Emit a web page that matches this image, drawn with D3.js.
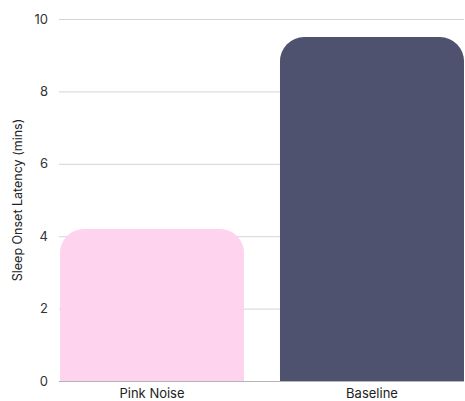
<!DOCTYPE html>
<html>
<head>
<meta charset="utf-8">
<script src="https://cdn.jsdelivr.net/npm/d3@7"></script>
<style>
  html, body { margin: 0; padding: 0; background: #fff; }
  svg { display: block; font-family: Inter, "Open Sans", sans-serif; }
</style>
</head>
<body>
<svg id="chart" width="465" height="401"></svg>
<script>
// Sleep onset latency by condition
const categories = ["Pink Noise", "Baseline"];
const values = [4.2, 9.5];
const colors = ["#FDD3EE", "#4E526F"];
const yTicks = [0, 2, 4, 6, 8, 10];
const yLabel = "Sleep Onset Latency (mins)";

const width = 465, height = 401;
const margin = { top: 19, right: 1, bottom: 20, left: 60 };

const svg = d3.select("#chart");

const x = d3.scaleBand()
  .domain(categories)
  .range([margin.left, width - margin.right])
  .paddingInner(0.1636)
  .paddingOuter(0);

const y = d3.scaleLinear()
  .domain([0, 10])
  .range([height - margin.bottom, margin.top]);

// gridlines
svg.append("g")
  .selectAll("line")
  .data(yTicks)
  .join("line")
  .attr("x1", margin.left - 1)
  .attr("x2", width - margin.right)
  .attr("y1", d => y(d) + 0.5)
  .attr("y2", d => y(d) + 0.5)
  .attr("stroke", d => d === 0 ? "#b5b5b5" : "#d4d4d4")
  .attr("stroke-width", 1);

// y tick labels
const yAxis = d3.axisLeft(y).tickValues(yTicks).tickSize(0).tickPadding(12);
svg.append("g")
  .attr("transform", `translate(${margin.left},0)`)
  .call(yAxis)
  .call(g => g.select(".domain").remove())
  .call(g => g.selectAll("text")
    .attr("font-size", 13)
    .attr("font-family", "Inter, sans-serif")
    .attr("fill", "#333"));

// bars with rounded top corners
const r = 24;
function topRounded(x0, y0, w, h, rad) {
  const rr = Math.min(rad, w / 2, h);
  return `M${x0},${y0 + h}` +
    `V${y0 + rr}` +
    `A${rr},${rr} 0 0 1 ${x0 + rr},${y0}` +
    `H${x0 + w - rr}` +
    `A${rr},${rr} 0 0 1 ${x0 + w},${y0 + rr}` +
    `V${y0 + h}Z`;
}

svg.append("g")
  .selectAll("path")
  .data(categories.map((c, i) => ({ c, v: values[i], col: colors[i] })))
  .join("path")
  .attr("d", d => topRounded(x(d.c), y(d.v), x.bandwidth(), y(0) - y(d.v), r))
  .attr("fill", d => d.col);

// x axis labels
const xAxis = d3.axisBottom(x).tickSize(0).tickPadding(8);
svg.append("g")
  .attr("transform", `translate(0,${y(0)})`)
  .call(xAxis)
  .call(g => g.select(".domain").remove())
  .call(g => g.selectAll("text")
    .attr("font-size", 13)
    .attr("font-family", "Inter, sans-serif")
    .attr("fill", "#222"));

// y axis title
svg.append("text")
  .attr("transform", `translate(22,${(y(0) + y(10)) / 2}) rotate(-90)`)
  .attr("text-anchor", "middle")
  .attr("font-size", 12.5)
  .attr("font-family", "Inter, sans-serif")
  .attr("fill", "#222")
  .text(yLabel);
</script>
</body>
</html>
